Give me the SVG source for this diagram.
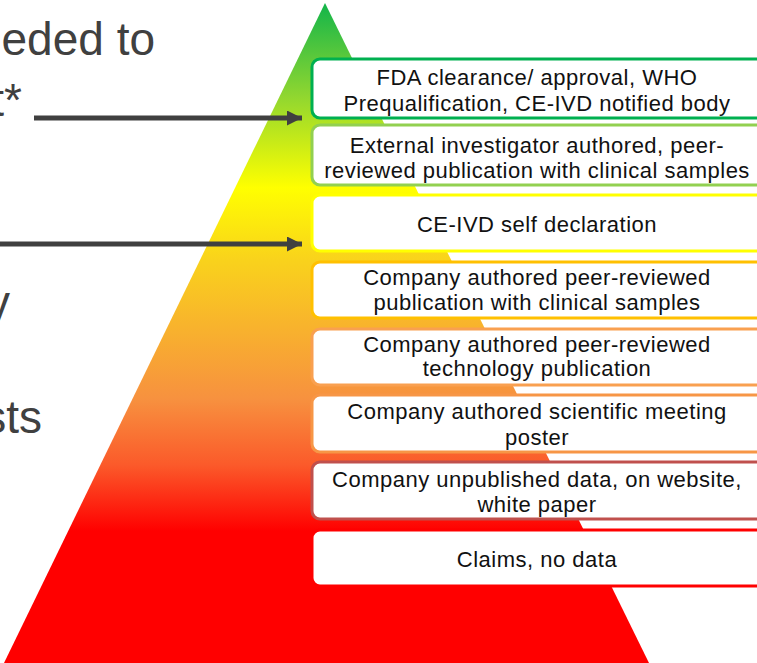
<svg xmlns="http://www.w3.org/2000/svg" width="757" height="663" viewBox="0 0 757 663">
<defs>
<linearGradient id="pyr" gradientUnits="userSpaceOnUse" x1="0" y1="3" x2="0" y2="663">
<stop offset="0" stop-color="#12b54a"/>
<stop offset="0.14" stop-color="#8fd630"/>
<stop offset="0.28" stop-color="#ffff00"/>
<stop offset="0.39" stop-color="#f9d21c"/>
<stop offset="0.6" stop-color="#f7913f"/>
<stop offset="0.7" stop-color="#fb5a2a"/>
<stop offset="0.8" stop-color="#ff0000"/>
<stop offset="1" stop-color="#ff0000"/>
</linearGradient>
<marker id="ah" markerUnits="userSpaceOnUse" markerWidth="16" markerHeight="16" refX="15" refY="7.5" orient="auto">
<path d="M0,0 L15,7.5 L0,15 Z" fill="#404040"/>
</marker>
<style>
.side{font-family:"Liberation Sans",Arial,sans-serif;font-size:46px;fill:#404040;text-anchor:end}
.box{fill:#ffffff;stroke-width:3}
.lbl{font-family:"Liberation Sans",Arial,sans-serif;font-size:22px;fill:#111111;text-anchor:middle;letter-spacing:0.5px}
.conn{stroke:#404040;stroke-width:5;fill:none}
</style>
</defs>
<rect width="757" height="663" fill="#ffffff"/>
<g id="pyramid">
<polygon points="325,3 649,663 4,663" fill="url(#pyr)"/>
</g>
<g id="side-text">
<text class="side" x="155" y="55">eded to</text>
<text class="side" x="22" y="116">t*</text>
<text class="side" x="10" y="318">y</text>
<text class="side" x="42" y="433">sts</text>
</g>
<g id="connectors">
<line class="conn" x1="34" y1="118" x2="302" y2="118" marker-end="url(#ah)"/>
<line class="conn" x1="0" y1="244" x2="302" y2="244" marker-end="url(#ah)"/>
</g>
<g id="n1">
<rect class="box" x="312" y="59" width="452" height="59" rx="8" stroke="#00b050" stroke-width="3.5"/>
<text class="lbl" x="537" y="85">FDA clearance/ approval, WHO</text>
<text class="lbl" x="537" y="111">Prequalification, CE-IVD notified body</text>
</g>
<g id="n2">
<rect class="box" x="312" y="125" width="452" height="60" rx="8" stroke="#92d050"/>
<text class="lbl" x="537" y="153">External investigator authored, peer-</text>
<text class="lbl" x="537" y="178">reviewed publication with clinical samples</text>
</g>
<g id="n3">
<rect class="box" x="312" y="195" width="452" height="56" rx="8" stroke="#ffff00"/>
<text class="lbl" x="537" y="232">CE-IVD self declaration</text>
</g>
<g id="n4">
<rect class="box" x="312" y="262" width="452" height="56" rx="8" stroke="#ffc000"/>
<text class="lbl" x="537" y="285">Company authored peer-reviewed</text>
<text class="lbl" x="537" y="310">publication with clinical samples</text>
</g>
<g id="n5">
<rect class="box" x="312" y="329" width="452" height="56" rx="8" stroke="#f9a050"/>
<text class="lbl" x="537" y="352">Company authored peer-reviewed</text>
<text class="lbl" x="537" y="376">technology publication</text>
</g>
<g id="n6">
<rect class="box" x="312" y="395" width="452" height="57" rx="8" stroke="#f79646"/>
<text class="lbl" x="537" y="419">Company authored scientific meeting</text>
<text class="lbl" x="537" y="445">poster</text>
</g>
<g id="n7">
<rect class="box" x="312" y="462" width="452" height="57" rx="8" stroke="#c0504d"/>
<text class="lbl" x="537" y="487">Company unpublished data, on website,</text>
<text class="lbl" x="537" y="512">white paper</text>
</g>
<g id="n8">
<rect class="box" x="312" y="530" width="452" height="56" rx="8" stroke="#ff0000"/>
<text class="lbl" x="537" y="567">Claims, no data</text>
</g>
</svg>
